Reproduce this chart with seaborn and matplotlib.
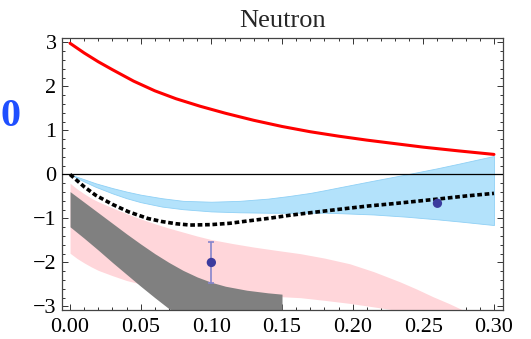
import numpy as np
import pandas as pd
import matplotlib
matplotlib.use("Agg")
import matplotlib.pyplot as plt
import seaborn as sns

# ---- data ----
red_x = [0.0, 0.01, 0.02, 0.03, 0.045, 0.06, 0.075, 0.092, 0.11, 0.13, 0.15, 0.17, 0.19,
         0.21, 0.23, 0.25, 0.275, 0.30]
red_y = [2.98, 2.76, 2.56, 2.38, 2.12, 1.90, 1.72, 1.55, 1.39, 1.23, 1.09, 0.97, 0.87,
         0.78, 0.70, 0.62, 0.535, 0.455]

dash_x = [0.0, 0.005, 0.01, 0.018, 0.03, 0.0415, 0.055, 0.065, 0.075, 0.085, 0.10, 0.113,
          0.125, 0.14, 0.155, 0.17, 0.191, 0.21, 0.23, 0.26, 0.28, 0.30]
dash_y = [0.0, -0.14, -0.28, -0.47, -0.68, -0.85, -1.00, -1.07, -1.12, -1.15, -1.14, -1.11,
          -1.06, -1.00, -0.93, -0.87, -0.79, -0.72, -0.66, -0.56, -0.49, -0.43]

blue_x = [0.0, 0.01, 0.018, 0.03, 0.04, 0.05, 0.065, 0.08, 0.10, 0.12, 0.14, 0.155, 0.17,
          0.18, 0.191, 0.215, 0.238, 0.26, 0.276, 0.30]
blue_hi = [0.0, -0.11, -0.20, -0.31, -0.39, -0.46, -0.54, -0.60, -0.62, -0.60, -0.55, -0.49,
           -0.42, -0.36, -0.29, -0.14, 0.0, 0.14, 0.25, 0.42]
blue_lo = [0.0, -0.16, -0.28, -0.43, -0.54, -0.63, -0.73, -0.79, -0.84, -0.86, -0.87, -0.87,
           -0.87, -0.87, -0.88, -0.91, -0.96, -1.02, -1.07, -1.15]

pink_x = [0.0, 0.005, 0.01, 0.015, 0.02, 0.03, 0.04, 0.05, 0.06, 0.07, 0.08, 0.09, 0.10,
          0.115, 0.13, 0.145, 0.163, 0.18, 0.198, 0.215, 0.2335, 0.245, 0.257, 0.268,
          0.278, 0.30]
pink_hi = [-0.20, -0.33, -0.44, -0.54, -0.62, -0.76, -0.89, -1.01, -1.12, -1.22, -1.31,
           -1.40, -1.48, -1.57, -1.65, -1.72, -1.80, -1.90, -2.03, -2.21, -2.44, -2.60,
           -2.78, -2.93, -3.08, -3.45]
pink_lo = [-1.79, -1.91, -2.01, -2.10, -2.18, -2.30, -2.41, -2.49, -2.56, -2.61, -2.65,
           -2.68, -2.71, -2.73, -2.75, -2.77, -2.80, -2.86, -2.93, -3.01, -3.10, -3.17,
           -3.25, -3.32, -3.40, -3.55]

gray_x = [0.0, 0.01, 0.02, 0.03, 0.04, 0.05, 0.06, 0.07, 0.08, 0.09, 0.10, 0.11, 0.125,
          0.14, 0.15]
gray_hi = [-0.39, -0.63, -0.87, -1.11, -1.35, -1.58, -1.80, -2.00, -2.18, -2.33, -2.45,
           -2.54, -2.63, -2.69, -2.72]
gray_lo = [-1.19, -1.45, -1.72, -2.00, -2.27, -2.54, -2.80, -3.05, -3.25, -3.42, -3.60,
           -3.75, -3.95, -4.15, -4.30]

pts_x = [0.10, 0.26]
pts_y = [-2.00, -0.655]
pts_err = [0.46, 0.04]

title = "Neutron"
side_label = "0"
xticks = [0.00, 0.05, 0.10, 0.15, 0.20, 0.25, 0.30]
yticks = [-3, -2, -1, 0, 1, 2, 3]

# ---- style ----
sns.set_theme(style="ticks")
plt.rcParams["font.family"] = ["Liberation Serif", "DejaVu Serif"]
plt.rcParams["axes.unicode_minus"] = True

fig = plt.figure(figsize=(5.31, 3.39), dpi=100)
ax = fig.add_axes([62/531, 1-310/339, (503-62)/531, (310-38)/339])

ax.fill_between(pink_x, pink_lo, pink_hi, color="#ffd6da", lw=0, zorder=1)
ax.fill_between(gray_x, gray_lo, gray_hi, color="#808080", lw=0, zorder=2)
ax.fill_between(blue_x, blue_lo, blue_hi, color="#b3e2fb", edgecolor="#8fd0f5", lw=0.6, zorder=2)

ax.axhline(0, color="black", lw=0.9, zorder=3)

sns.lineplot(x=red_x, y=red_y, ax=ax, color="#ff0000", lw=2.2, zorder=4, sort=False)
sns.lineplot(x=dash_x, y=dash_y, ax=ax, color="black", lw=2.6, zorder=5, sort=False,
             linestyle=(0, (1.3, 0.75)))

ax.errorbar(pts_x, pts_y, yerr=pts_err, fmt="none", ecolor="#8585cc", elinewidth=1.2,
            capsize=2.3, capthick=1.2, zorder=6)
sns.scatterplot(x=pts_x, y=pts_y, ax=ax, color="#3b3b9e", s=45, edgecolor="none", zorder=7)

ax.set_xlim(-0.0057, 0.3064)
ax.set_ylim(-3.08, 3.10)
ax.set_xticks(xticks)
ax.set_xticklabels([f"{t:.2f}" for t in xticks])
ax.set_yticks(yticks)
ax.set_xticks(np.arange(0, 0.3001, 0.01), minor=True)
ax.set_yticks(np.arange(-3, 3.001, 0.2), minor=True)
ax.tick_params(which="both", direction="in", top=True, right=True, color="#333333", width=0.7)
ax.tick_params(which="major", length=4.5, labelsize=16, pad=6, labelcolor="black")
ax.tick_params(which="minor", length=2.2)
ax.tick_params(axis="y", which="major", pad=4)
ax.tick_params(labeltop=False, labelright=False)
for s in ax.spines.values():
    s.set_color("#444444")
    s.set_linewidth(0.9)
ax.set_xlabel("")
ax.set_ylabel("")
ax.set_title(title, fontsize=19, pad=8)

fig.text(11/531, 1-117/339, side_label, color="#1f4fff", fontsize=29, fontweight="bold",
         ha="center", va="center")

fig.savefig("out.png", dpi=100)
